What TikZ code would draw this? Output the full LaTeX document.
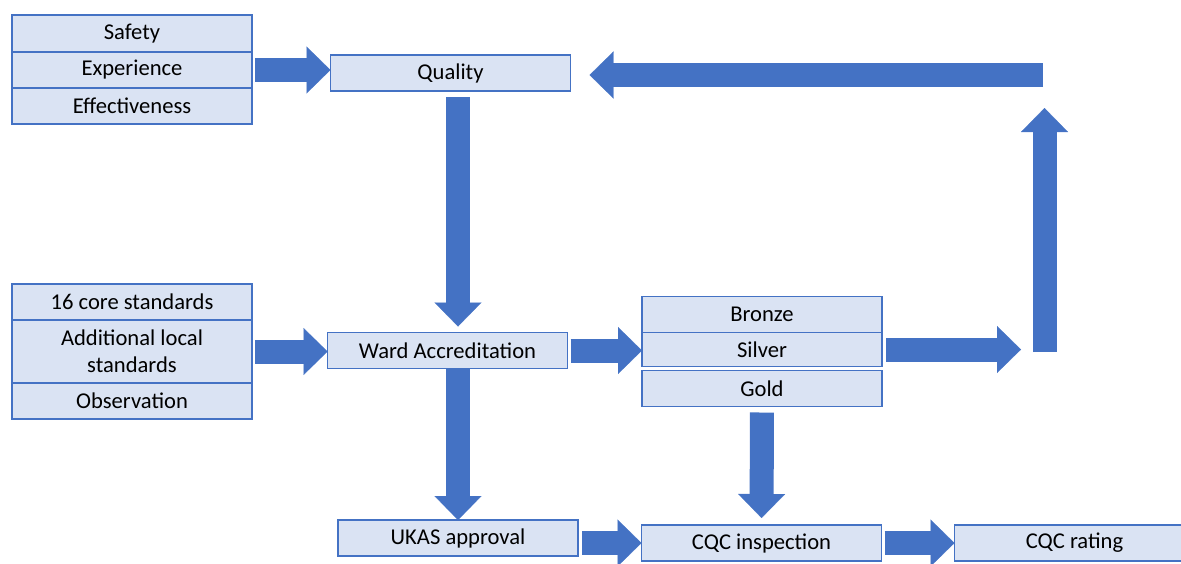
\documentclass[tikz,border=0pt]{standalone}
\usepackage{fontspec}
\setmainfont{Carlito}
\usepackage{tikz}
\usetikzlibrary{arrows.meta, positioning}
\definecolor{cfill}{HTML}{DAE3F3}
\definecolor{cline}{HTML}{4472C4}
\definecolor{carrow}{HTML}{4472C4}

\begin{document}
\begin{tikzpicture}[x=0.5pt, y=-0.5pt,
  cell/.style={draw=cline, fill=cfill, line width=0.7pt, font=\fontsize{11.3}{13.5}\selectfont,
               minimum width=120pt, minimum height=#1, align=center, inner sep=0pt, outer sep=0pt},
  cell/.default=18pt,
  blk/.style={-{Triangle[width=23.5pt, length=12pt, line width=0.1pt]}, line width=12pt, draw=carrow},
  node distance=0pt
]
\useasboundingbox (0,0) rectangle (1181,563);

% inputs to quality
\node[cell=18.5pt] (safety) at (132,33.5) {Safety};
\node[cell, below=of safety] (exper)  {Experience};
\node[cell, below=of exper]  (effect) {Effectiveness};
\node[cell] (quality) at (450.5,73) {Quality};

% standards
\node[cell] (core) at (132,302) {16 core standards};
\node[cell=31.5pt, below=of core] (addl) {Additional local\\standards};
\node[cell, below=of addl] (observ) {Observation};
\node[cell] (ward) at (447.5,350.5) {Ward Accreditation};

% levels
\node[cell] (bronze) at (762,314.5) {Bronze};
\node[cell=17pt, below=of bronze] (silver) {Silver};
\node[cell, below=2pt of silver]  (gold)   {Gold};

% bottom row
\node[cell] (ukas) at (458,538)    {UKAS approval};
\node[cell] (cqci) at (761.5,543)  {CQC inspection};
\node[cell] (cqcr) at (1074.5,543) {CQC rating};

% feedback loop
\coordinate (loopin)  at (1021,352);
\coordinate (loopbot) at (1044.5,352);
\coordinate (looptop) at (1044.5,108);
\coordinate (loopout) at (1043,75);

\draw[blk] ([xshift=1.5pt]exper.east) -- (exper.east -| quality.west);
\draw[blk] ([xshift=1.5pt]addl.east) -- (addl.east -| ward.west);
\draw[blk] ([xshift=1.5pt]ward.east) -- (ward.east -| silver.west);
\draw[blk] ([xshift=2pt]silver.east) -- (silver.east -| loopin);
\draw[blk] (loopbot) -- (looptop);
\draw[blk] (loopout) -- ([xshift=9.5pt]quality.east |- loopout);
\draw[blk, shorten <=3pt, shorten >=3pt] (quality.south -| ukas) -- (ward.north -| ukas);
\draw[blk] (ward.south -| ukas) -- (ukas.north);
\draw[blk, shorten <=3pt, shorten >=3.5pt] (gold.south) -- (cqci.north);
\draw[blk] ([xshift=2pt]ukas.east |- cqci.west) -- (cqci.west);
\draw[blk] ([xshift=1.5pt]cqci.east) -- (cqcr.west);
\end{tikzpicture}
\end{document}
